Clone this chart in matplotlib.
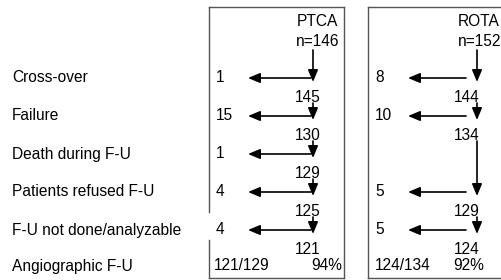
import matplotlib.pyplot as plt

plt.rcParams['font.family'] = ['Liberation Sans', 'DejaVu Sans']

# flow data
labels = ['Cross-over', 'Failure', 'Death during F-U', 'Patients refused F-U',
          'F-U not done/analyzable', 'Angiographic F-U']
groups = ['PTCA', 'ROTA']
n_start = [146, 152]
ptca_out = [1, 15, 1, 4, 4]
ptca_left = [145, 130, 129, 125, 121]
rota_out = [8, 10, 0, 5, 5]
rota_left = [144, 134, 134, 129, 124]
fu_ratio = ['121/129', '124/134']
fu_pct = ['94%', '92%']

fig = plt.figure(figsize=(5.01, 2.8), dpi=100)
ax = fig.add_axes([0, 0, 1, 1])
ax.set_xlim(0, 501)
ax.set_ylim(280, 0)
ax.axis('off')

fs = 11.2
row_y = [78, 116, 154, 192, 230, 266]

for lab, y in zip(labels, row_y):
    ax.text(12, y, lab, fontsize=fs, va='center', ha='left')

# box layout (pixels)
boxes = [
    dict(x0=209, x1=344, ax=313, nc=308, hr=338, ox=216, hx=248, tx=311, fr=214, fp=311),
    dict(x0=368, x1=520, ax=477, nc=467, hr=500, ox=375, hx=408, tx=466, fr=375, fp=453),
]
outs = [ptca_out, rota_out]
lefts = [ptca_left, rota_left]


def arrow(x0, y0, x1, y1):
    ax.annotate('', xy=(x1, y1), xytext=(x0, y0),
                arrowprops=dict(arrowstyle='-|>,head_length=0.6,head_width=0.25',
                                color='black', lw=1.2, shrinkA=0, shrinkB=0,
                                mutation_scale=12))


edge = '#555555'
for g, b in enumerate(boxes):
    # box frame
    ax.plot([b['x0'], b['x1']], [7, 7], color=edge, lw=1)
    ax.plot([b['x0'], b['x1']], [277.5, 277.5], color=edge, lw=1)
    ax.plot([b['x1'], b['x1']], [7, 277.5], color=edge, lw=1)
    if g == 0:
        ax.plot([b['x0'], b['x0']], [7, 212], color=edge, lw=1)
        ax.plot([b['x0'], b['x0']], [240, 277.5], color=edge, lw=1)
    else:
        ax.plot([b['x0'], b['x0']], [7, 277.5], color=edge, lw=1)

    ax.text(b['hr'], 21, groups[g], fontsize=fs, ha='right', va='center')
    ax.text(b['hr'] + 1, 41, 'n=%d' % n_start[g], fontsize=fs, ha='right', va='center')
    top = 50
    for i, (o, r) in enumerate(zip(outs[g], lefts[g])):
        y = row_y[i]
        if o == 0:
            continue
        arrow(b['ax'], top, b['ax'], y + 4)
        arrow(b['tx'], y, b['hx'], y)
        ax.text(b['ox'], y, str(o), fontsize=fs, ha='left', va='center')
        ax.text(b['nc'], y + 19, str(r), fontsize=fs, ha='center', va='center')
        top = y + 25
    ax.text(b['fr'], row_y[-1], fu_ratio[g], fontsize=fs, ha='left', va='center')
    ax.text(b['fp'], row_y[-1], fu_pct[g], fontsize=fs, ha='left', va='center')

fig.savefig('out.png', dpi=100)
